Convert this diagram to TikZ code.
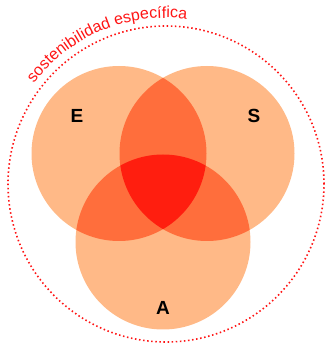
\documentclass[tikz,border=0pt]{standalone}
\usepackage{fontspec}
\setmainfont{Liberation Sans}
\usetikzlibrary{decorations.text}
\definecolor{lightor}{RGB}{255,185,135}
\definecolor{midor}{RGB}{255,110,60}
\definecolor{darkor}{RGB}{255,30,15}
\definecolor{dotred}{RGB}{255,20,20}
\begin{document}
\begin{tikzpicture}[x=1pt,y=1pt,
  setlabel/.style={font=\fontsize{19}{19}\selectfont\bfseries, text=black, inner sep=0pt}]
\useasboundingbox (0,0) rectangle (324,345);
\coordinate (cE) at (119,191.5);
\coordinate (cS) at (207,191.5);
\coordinate (cA) at (163,103);
\coordinate (cO) at (166,161);
\def\rr{87.5}
% base circles
\fill[lightor] (cE) circle[radius=\rr];
\fill[lightor] (cS) circle[radius=\rr];
\fill[lightor] (cA) circle[radius=\rr];
% pairwise overlaps
\begin{scope}
  \clip (cE) circle[radius=\rr];
  \fill[midor] (cS) circle[radius=\rr];
  \fill[midor] (cA) circle[radius=\rr];
\end{scope}
\begin{scope}
  \clip (cS) circle[radius=\rr];
  \fill[midor] (cA) circle[radius=\rr];
\end{scope}
% triple overlap
\begin{scope}
  \clip (cE) circle[radius=\rr];
  \clip (cS) circle[radius=\rr];
  \fill[darkor] (cA) circle[radius=\rr];
\end{scope}
% outer dotted circle
\draw[dotred, line width=1.6pt, dash pattern=on 1.5pt off 2.6pt] (cO) circle[radius=158];
% curved label
\path[decorate, decoration={text along path, text align=left,
  text={|\color{dotred}\fontsize{16}{16}\selectfont|sostenibilidad específica}}]
  (cO) ++(142.7:166) arc[start angle=142.7, end angle=81.9, radius=166];
% set letters
\node[setlabel] (E) at (77,229) {E};
\node[setlabel] (S) at (254,229) {S};
\node[setlabel] (A) at (163,37) {A};
\end{tikzpicture}
\end{document}
